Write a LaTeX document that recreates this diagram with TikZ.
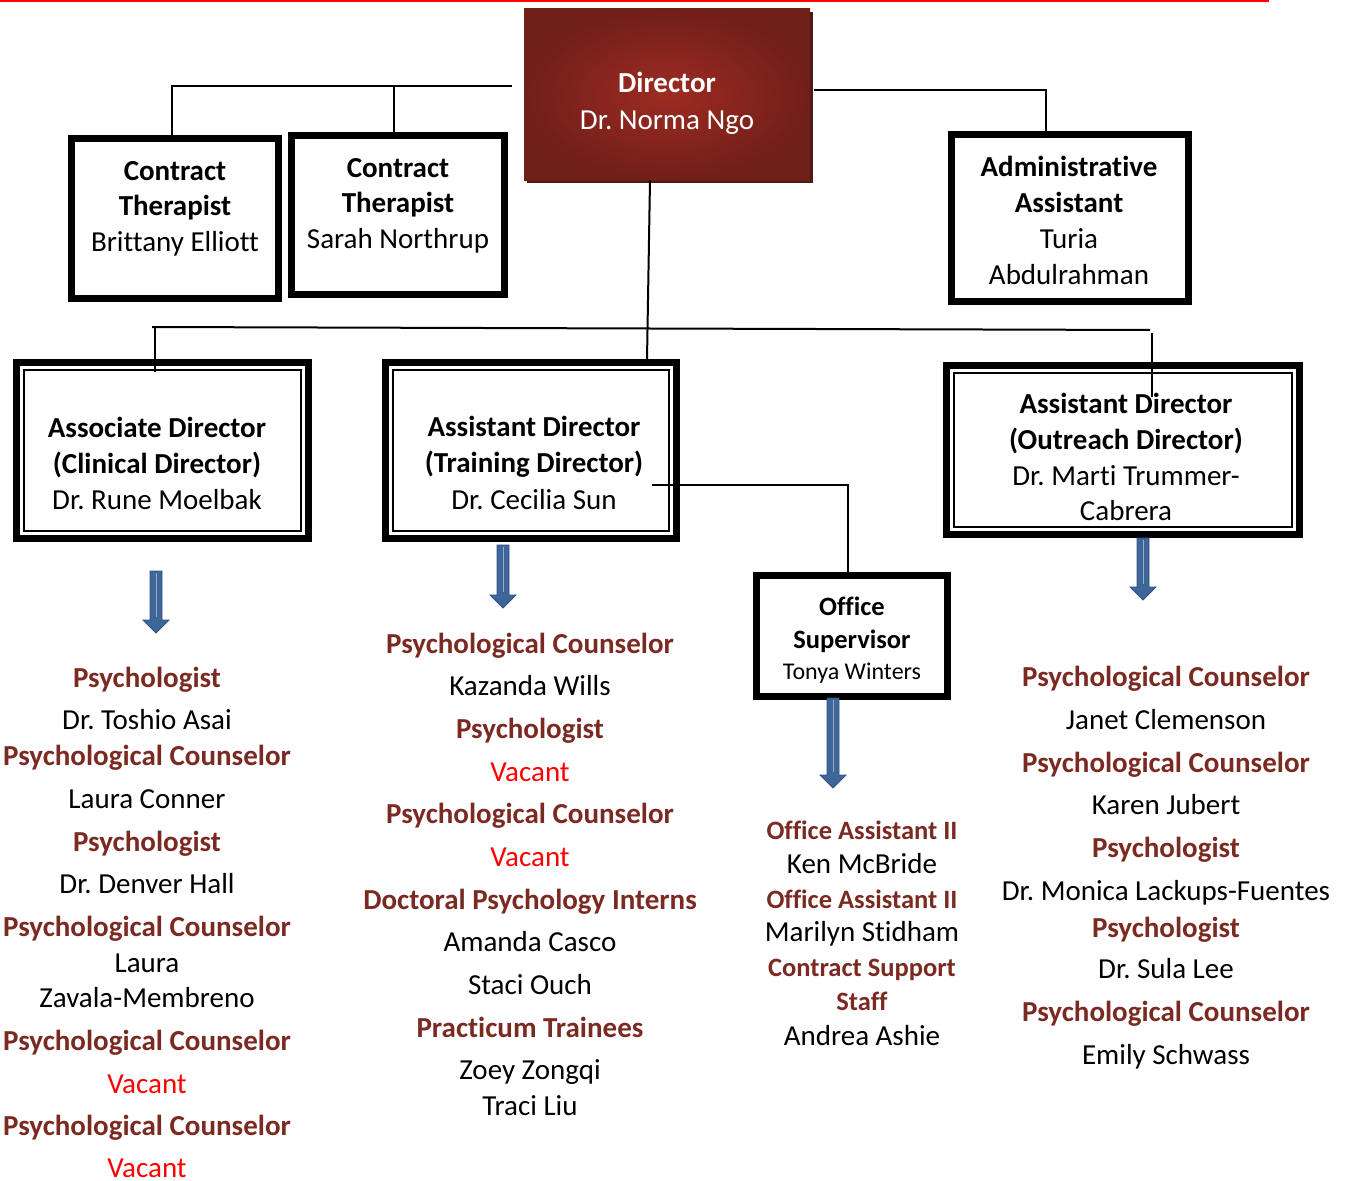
\documentclass[tikz,border=0pt]{standalone}
\usepackage{fontspec}
\setmainfont[Ligatures={NoCommon}]{Carlito}
\usetikzlibrary{shadows}
\definecolor{hdred}{HTML}{7B2A22}
\definecolor{vacred}{HTML}{FF0000}
\definecolor{arrfill}{HTML}{3F6699}
\definecolor{arrline}{HTML}{2E5486}
\definecolor{dirin}{HTML}{9E2B22}
\definecolor{dirout}{HTML}{701F19}
\definecolor{dirsh}{HTML}{4E1A16}
\frenchspacing
\begin{document}
\begin{tikzpicture}[x=1pt,y=-1pt,
  every node/.style={inner sep=0pt, outer sep=0pt},
  txt/.style={anchor=base, yshift=-2pt},
  hd/.style={txt, font=\fontsize{29}{35}\selectfont\bfseries, text=hdred},
  hds/.style={txt, font=\fontsize{26.5}{32}\selectfont\bfseries, text=hdred},
  nm/.style={txt, font=\fontsize{29}{35}\selectfont, text=black},
  vac/.style={txt, font=\fontsize{29}{35}\selectfont, text=vacred},
  bt/.style={txt, font=\fontsize{29}{35}\selectfont\bfseries, text=black},
  bn/.style={txt, font=\fontsize{29}{35}\selectfont, text=black},
  obt/.style={txt, font=\fontsize{26.5}{32}\selectfont\bfseries, text=black},
  obn/.style={txt, font=\fontsize{24}{30}\selectfont, text=black},
  dt/.style={txt, font=\fontsize{29}{35}\selectfont\bfseries, text=white},
  dn/.style={txt, font=\fontsize{29}{35}\selectfont, text=white},
  tbox/.style={draw=black, line width=7pt, fill=white},
  inbox/.style={draw=black, line width=2pt},
  conn/.style={draw=black, line width=2pt},
  pics/darrow/.style={code={
    \fill[arrfill, draw=arrline, line width=0.8pt] (-6,0) -- (6,0) -- (6,#1-13) -- (13,#1-13) -- (0,#1) -- (-13,#1-13) -- (-6,#1-13) -- cycle;
    \draw[white!45!arrfill, line width=1pt] (0,2) -- (0,#1-16);
  }}
]
\useasboundingbox (0,0) rectangle (1351,1180);
% top red rule
\fill[vacred] (0,0) rectangle (1269,2);

% Director
\node[minimum width=286pt, minimum height=171pt, inner color=dirin, outer color=dirout,
  drop shadow={shadow xshift=3pt, shadow yshift=-3pt, fill=dirsh, opacity=1}] (dir) at (667,94.5) {};
\node[dt] (dirt) at (667,91) {Director};
\node[dn] (dirn) at (667,128) {Dr. Norma Ngo};

% Contract therapists
\node[tbox, minimum width=207pt, minimum height=160pt] (ct1) at (175,218.5) {};
\node[bt] (ct1a) at (175,178) {Contract};
\node[bt] (ct1b) at (175,213) {Therapist};
\node[bn] (ct1c) at (175,249) {Brittany Elliott};

\node[tbox, minimum width=213pt, minimum height=159pt] (ct2) at (398,215) {};
\node[bt] (ct2a) at (398,175) {Contract};
\node[bt] (ct2b) at (398,210) {Therapist};
\node[bn] (ct2c) at (398,246) {Sarah Northrup};

% Administrative assistant
\node[tbox, minimum width=237pt, minimum height=167pt] (adm) at (1070,218) {};
\node[bt] (adma) at (1069,174) {Administrative};
\node[bt] (admb) at (1069,210) {Assistant};
\node[bn] (admc) at (1069,246) {Turia};
\node[bn] (admd) at (1069,282) {Abdulrahman};

% Associate director
\node[tbox, minimum width=292pt, minimum height=176pt] (as) at (162.5,450.5) {};
\draw[inbox] ([shift={(7.5,7.5)}]as.north west) rectangle ([shift={(-7.5,-7.5)}]as.south east);
\node[bt] (asa) at (157,435) {Associate Director};
\node[bt] (asb) at (157,471) {(Clinical Director)};
\node[bn] (asc) at (157,507) {Dr. Rune Moelbak};

% Training director
\node[tbox, minimum width=291pt, minimum height=176pt] (tr) at (531,450.5) {};
\draw[inbox] ([shift={(7.5,7.5)}]tr.north west) rectangle ([shift={(-7.5,-7.5)}]tr.south east);
\node[bt] (tra) at (534,434) {Assistant Director};
\node[bt] (trb) at (534,470) {(Training Director)};
\node[bn] (trc) at (534,507) {Dr. Cecilia Sun};

% Outreach director
\node[tbox, minimum width=353pt, minimum height=169pt] (out) at (1123,450) {};
\draw[inbox] ([shift={(7.5,7.5)}]out.north west) rectangle ([shift={(-7.5,-7.5)}]out.south east);
\node[bt] (outa) at (1126,411) {Assistant Director};
\node[bt] (outb) at (1126,447) {(Outreach Director)};
\node[bn] (outc) at (1126,483) {Dr. Marti Trummer-};
\node[bn] (outd) at (1126,518) {Cabrera};

% Office supervisor
\node[tbox, minimum width=191pt, minimum height=121pt] (os) at (852,636) {};
\node[obt] (osa) at (852,613) {Office};
\node[obt] (osb) at (852,646) {Supervisor};
\node[obn] (osc) at (852,677) {Tonya Winters};

% connectors
\coordinate (dL) at (512,86);
\coordinate (dR) at (814,90);
\coordinate (hL) at (152,327);
\coordinate (hR) at (1150,330);
\coordinate (aIn) at (155,372);
\coordinate (oIn) at (1152,397);
\coordinate (tO) at (652,485);
\draw[conn] (dL) -| ([xshift=-3pt]ct1.north);
\draw[conn] ([xshift=-4pt]ct2.north) -- ([xshift=-4pt]ct2.north |- dL);
\draw[conn] (dR) -| ([xshift=-24pt]adm.north);
\draw[conn] ([xshift=-17pt]dir.south) -- ([xshift=116pt, yshift=3pt]tr.north);
\draw[conn] (hL) -- (hR);
\draw[conn] ([xshift=3pt]hL) -- (aIn);
\draw[conn] ([shift={(2,3)}]hR) -- (oIn);
\draw[conn] (tO) -| ([xshift=-4pt]os.north);

% arrows
\pic at (156,571) {darrow=62};
\pic at (503,545) {darrow=63};
\pic at (833,698) {darrow=90};
\pic at (1143,538) {darrow=62};

% left column
\node[hd]  (A1)  at (147,685)  {Psychologist};
\node[nm]  (A2)  at (147,727)  {Dr. Toshio Asai};
\node[hd]  (A3)  at (147,763)  {Psychological Counselor};
\node[nm]  (A4)  at (147,806)  {Laura Conner};
\node[hd]  (A5)  at (147,849)  {Psychologist};
\node[nm]  (A6)  at (147,891)  {Dr. Denver Hall};
\node[hd]  (A7)  at (147,934)  {Psychological Counselor};
\node[nm]  (A8)  at (147,970)  {Laura};
\node[nm]  (A9)  at (147,1005) {Zavala-Membreno};
\node[hd]  (A10) at (147,1048) {Psychological Counselor};
\node[vac] (A11) at (147,1091) {Vacant};
\node[hd]  (A12) at (147,1133) {Psychological Counselor};
\node[vac] (A13) at (147,1175) {Vacant};

% middle column
\node[hd]  (B1)  at (530,651)  {Psychological Counselor};
\node[nm]  (B2)  at (530,693)  {Kazanda Wills};
\node[hd]  (B3)  at (530,736)  {Psychologist};
\node[vac] (B4)  at (530,779)  {Vacant};
\node[hd]  (B5)  at (530,821)  {Psychological Counselor};
\node[vac] (B6)  at (530,864)  {Vacant};
\node[hd]  (B7)  at (530,907)  {Doctoral Psychology Interns};
\node[nm]  (B8)  at (530,949)  {Amanda Casco};
\node[nm]  (B9)  at (530,992)  {Staci Ouch};
\node[hd]  (B10) at (530,1035) {Practicum Trainees};
\node[nm]  (B11) at (530,1077) {Zoey Zongqi};
\node[nm]  (B12) at (530,1113) {Traci Liu};

% office column
\node[hds] (C1) at (862,837)  {Office Assistant II};
\node[nm]  (C2) at (862,871)  {Ken McBride};
\node[hds] (C3) at (862,906)  {Office Assistant II};
\node[nm]  (C4) at (862,939)  {Marilyn Stidham};
\node[hds] (C5) at (862,974)  {Contract Support};
\node[hds] (C6) at (862,1008) {Staff};
\node[nm]  (C7) at (862,1043) {Andrea Ashie};

% right column
\node[hd] (D1)  at (1166,684)  {Psychological Counselor};
\node[nm] (D2)  at (1166,727)  {Janet Clemenson};
\node[hd] (D3)  at (1166,770)  {Psychological Counselor};
\node[nm] (D4)  at (1166,812)  {Karen Jubert};
\node[hd] (D5)  at (1166,855)  {Psychologist};
\node[nm] (D6)  at (1166,898)  {Dr. Monica Lackups-Fuentes};
\node[hd] (D7)  at (1166,935)  {Psychologist};
\node[nm] (D8)  at (1166,976)  {Dr. Sula Lee};
\node[hd] (D9)  at (1166,1019) {Psychological Counselor};
\node[nm] (D10) at (1166,1062) {Emily Schwass};
\end{tikzpicture}
\end{document}
